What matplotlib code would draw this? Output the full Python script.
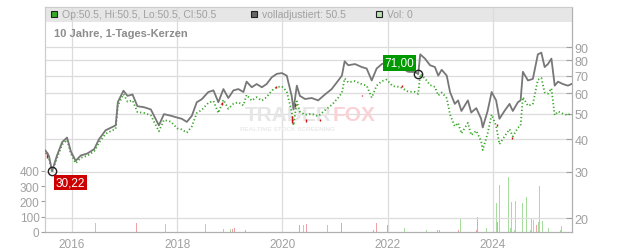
import matplotlib
matplotlib.use("Agg")
import matplotlib.pyplot as plt
import matplotlib.dates as mdates
from matplotlib.patches import Rectangle
from matplotlib.ticker import FixedLocator, NullLocator, FuncFormatter
import pandas as pd

plt.rcParams['font.family'] = ['Liberation Sans', 'DejaVu Sans']

# price (gray = adjusted, green = candles)
dates = ["2015-07-01", "2015-07-24", "2015-08-15", "2015-09-17", "2015-10-24", "2015-11-27", "2015-12-24",
         "2016-01-26", "2016-03-02", "2016-04-16", "2016-06-03", "2016-07-06", "2016-08-21", "2016-10-04",
         "2016-10-30", "2016-11-14", "2016-12-23", "2017-01-20", "2017-02-24", "2017-03-30", "2017-05-16",
         "2017-07-01", "2017-08-26", "2017-09-30", "2017-11-17", "2018-01-01", "2018-02-01", "2018-03-08",
         "2018-04-12", "2018-05-16", "2018-06-20", "2018-08-04", "2018-09-09", "2018-10-13", "2018-11-17",
         "2018-12-21", "2019-01-26", "2019-03-01", "2019-04-05", "2019-04-27", "2019-06-02", "2019-07-06",
         "2019-08-11", "2019-09-13", "2019-10-19", "2019-11-23", "2019-12-28", "2020-01-31", "2020-03-05",
         "2020-03-18", "2020-04-10", "2020-05-01", "2020-06-06", "2020-07-22", "2020-09-05", "2020-10-22",
         "2020-12-08", "2021-01-23", "2021-02-17", "2021-03-08", "2021-04-02", "2021-05-19", "2021-07-05",
         "2021-08-08", "2021-09-12", "2021-10-16", "2021-11-21", "2021-12-25", "2022-02-05", "2022-03-28",
         "2022-05-23", "2022-07-09", "2022-08-01", "2022-08-15", "2022-09-17", "2022-10-22", "2022-11-25",
         "2022-12-18", "2023-01-11", "2023-02-15", "2023-03-10", "2023-04-12", "2023-05-05", "2023-05-28",
         "2023-07-12", "2023-08-04", "2023-09-08", "2023-10-12", "2023-10-23", "2023-11-26", "2023-12-24",
         "2024-01-24", "2024-02-16", "2024-03-22", "2024-04-26", "2024-05-19", "2024-06-23", "2024-07-12",
         "2024-07-28", "2024-09-01", "2024-10-05", "2024-11-09", "2024-12-03", "2024-12-26", "2025-01-18",
         "2025-02-11", "2025-03-06", "2025-03-29", "2025-05-02", "2025-06-06", "2025-06-29"]
adjusted = [36.2, 34.6, 30.22, 34.5, 39.0, 40.6, 35.9,
            33.1, 34.7, 35.3, 36.7, 40.0, 43.3, 44.5,
            45.2, 55.5, 61.3, 58.6, 59.3, 53.5, 53.0,
            52.0, 45.2, 49.9, 49.2, 48.4, 47.9, 46.6,
            49.2, 55.4, 56.9, 60.6, 61.5, 55.4, 62.2,
            57.5, 61.5, 62.2, 60.6, 66.4, 63.2, 65.0,
            63.2, 65.0, 69.0, 71.1, 71.6, 70.0, 58.6,
            52.0, 64.1, 58.6, 57.0, 57.5, 56.3, 59.3,
            62.2, 67.1, 70.0, 79.4, 76.7, 77.5, 75.5,
            74.5, 67.1, 74.5, 77.5, 78.6, 76.0, 75.5,
            72.4, 72.3, 71.0, 84.4, 81.3, 76.7, 75.5,
            70.0, 73.7, 70.0, 60.6, 54.6, 56.3, 51.3,
            56.3, 50.6, 52.6, 47.9, 44.4, 51.3, 60.6,
            56.3, 47.9, 51.3, 54.6, 51.3, 55.4, 56.3,
            72.4, 67.1, 68.0, 84.4, 85.7, 75.5, 77.5,
            81.3, 64.1, 66.4, 65.0, 64.1, 65.0]
candles = [35.5, 33.9, 29.9, 33.8, 38.2, 39.8, 35.2,
           32.4, 34.0, 34.6, 36.0, 38.8, 42.0, 43.2,
           43.8, 53.8, 59.5, 55.7, 56.3, 50.8, 50.4,
           49.4, 42.9, 47.4, 46.7, 44.0, 43.6, 42.4,
           44.8, 50.4, 51.8, 55.1, 56.0, 50.4, 56.6,
           52.3, 54.7, 55.4, 53.9, 59.1, 56.2, 57.9,
           56.2, 57.9, 61.4, 63.3, 63.7, 60.9, 51.0,
           45.2, 55.8, 51.0, 49.6, 50.0, 49.0, 51.6,
           54.1, 57.7, 60.2, 68.3, 66.0, 66.7, 64.9,
           64.1, 57.7, 64.1, 66.7, 67.6, 63.8, 63.4,
           60.8, 60.7, 59.6, 70.9, 68.3, 64.4, 63.4,
           58.8, 60.4, 57.4, 49.7, 44.8, 46.2, 42.1,
           46.2, 41.5, 43.1, 39.3, 36.4, 42.1, 49.7,
           45.0, 38.3, 41.0, 43.7, 41.0, 44.3, 45.0,
           57.9, 53.7, 54.4, 67.5, 68.6, 60.4, 59.7,
           62.6, 49.4, 51.1, 50.1, 49.4, 50.5]

# red candles (date, low, high)
red_dates = ["2015-07-12", "2018-11-10", "2019-11-15", "2020-03-10", "2020-03-25", "2020-06-15",
             "2020-09-20", "2021-07-10", "2022-04-10", "2024-01-30", "2024-05-10"]
red_low = [33.8, 54.0, 62.8, 46.0, 53.0, 46.5, 46.8, 58.3, 63.3, 44.8, 40.2]
red_high = [35.8, 55.5, 63.8, 49.0, 55.0, 48.0, 47.8, 59.2, 64.2, 45.8, 40.9]

# volume bars
vol_dates = ["2016-06-14", "2017-03-25", "2017-10-12", "2018-07-13", "2018-11-17", "2019-01-08", "2019-01-22",
             "2019-01-31", "2019-04-19", "2020-04-27", "2020-05-27", "2020-06-13", "2020-11-07", "2021-02-13",
             "2021-09-23", "2021-10-15", "2022-01-01", "2022-04-28", "2022-09-27", "2022-12-14", "2022-12-24",
             "2023-05-05", "2023-05-25", "2023-09-08", "2023-09-16", "2023-09-20", "2023-11-16", "2024-01-27",
             "2024-02-03", "2024-02-15", "2024-04-20", "2024-05-04", "2024-05-11", "2024-06-01", "2024-06-09",
             "2024-07-23", "2024-07-27", "2024-08-24", "2024-09-16", "2024-09-26", "2024-10-10", "2024-10-31",
             "2024-11-14", "2024-11-21", "2024-12-12", "2025-01-23", "2025-04-16", "2025-04-23"]
vol_values = [59, 59, 52, 52, 22, 22, 20,
              26, 15, 48, 48, 52, 48, 59,
              15, 59, 48, 28, 15, 15, 15,
              15, 92, 15, 100, 66, 28, 187,
              66, 307, 357, 28, 196, 15, 200,
              124, 190, 226, 15, 92, 81, 48,
              66, 298, 74, 28, 15, 39]
vol_dir = ["g", "r", "g", "g", "g", "g", "r",
           "r", "r", "r", "g", "r", "g", "r",
           "r", "r", "n", "g", "g", "r", "r",
           "r", "g", "r", "r", "r", "g", "g",
           "r", "g", "g", "g", "g", "g", "g",
           "g", "g", "g", "g", "g", "g", "r",
           "g", "g", "g", "g", "g", "g"]

price_ticks = [20, 30, 40, 50, 60, 70, 80, 90]
vol_ticks = [0, 100, 200, 300, 400]
year_ticks = ["2016", "2018", "2020", "2022", "2024"]

dates = pd.to_datetime(dates)
red_dates = pd.to_datetime(red_dates)
vol_dates = pd.to_datetime(vol_dates)

fig = plt.figure(figsize=(6.32, 2.53), dpi=100)
ax = fig.add_axes([45/632, 20/253, 527/632, 225/253])
ax2 = ax.twinx()

txt = '#a0a0a0'
grid = '#dcdcdc'

# volume
vcol = {"g": '#a6dc9c', "r": '#f2a0a8', "n": '#b0b0b0'}
ax.bar(vol_dates, vol_values, width=7, color=[vcol[d] for d in vol_dir], zorder=2)
ax.set_ylim(0, 1470)
ax.yaxis.set_major_locator(FixedLocator(vol_ticks))
ax.tick_params(axis='y', colors=txt, labelsize=8.5, length=3, width=0.8, pad=1)
ax.tick_params(axis='x', colors=txt, labelsize=8.5, length=0, pad=4)
ax.xaxis.set_major_locator(FixedLocator([mdates.date2num(pd.Timestamp(y + "-01-01")) for y in year_ticks]))
ax.xaxis.set_major_formatter(mdates.DateFormatter('%Y'))
ax.set_xlim(pd.Timestamp("2015-06-27"), pd.Timestamp("2025-07-04"))

# price
ax2.set_yscale('log')
ax2.set_ylim(17.7, 128)
ax2.yaxis.set_major_locator(FixedLocator(price_ticks))
ax2.yaxis.set_minor_locator(NullLocator())
ax2.yaxis.set_major_formatter(FuncFormatter(lambda v, p: "%d" % v))
ax2.tick_params(axis='y', colors=txt, labelsize=9, length=4, width=0.8, direction='in', pad=2)
for l in ax2.get_yticklabels():
    l.set_color(txt)

# header band and grid
ax2.add_patch(Rectangle((0, 1 - 15/225), 1, 15/225, transform=ax2.transAxes,
                        facecolor='#e6e6e6', edgecolor='none', zorder=0.5))
for v in price_ticks:
    ax2.axhline(v, color=grid, lw=0.9, zorder=1)
for y in year_ticks:
    ax2.axvline(pd.Timestamp(y + "-01-01"), color=grid, lw=0.9, zorder=1)

# watermark
ax2.text(0.543, 0.522, "TRADER", transform=ax2.transAxes, ha='right', va='center',
         fontsize=15, fontweight='bold', color='#e6e6e6', zorder=1.5)
ax2.text(0.545, 0.522, "FOX", transform=ax2.transAxes, ha='left', va='center',
         fontsize=15, fontweight='bold', color='#f9d2d6', zorder=1.5)
ax2.text(0.370, 0.46, "REALTIME STOCK SCREENING", transform=ax2.transAxes, ha='left', va='center',
         fontsize=4.6, fontweight='bold', color='#eaeaea', zorder=1.5)

ax2.plot(dates, candles, color='#3aa62a', lw=1.3, linestyle=(0, (0.7, 1.3)), zorder=3)
ax2.vlines(red_dates, red_low, red_high, color='#cc1111', lw=1.0, zorder=3.5)
ax2.plot(dates, adjusted, color='#777777', lw=1.3, zorder=4)

# min / max labels
lo_d, lo_v = pd.Timestamp("2015-08-15"), 30.22
hi_d, hi_v = pd.Timestamp("2022-08-01"), 71.0
for d, v in [(lo_d, lo_v), (hi_d, hi_v)]:
    ax2.plot([d], [v], marker='o', ms=6, mfc='none', mec='#222222', mew=1, zorder=6)
ax2.annotate("30,22", (lo_d, lo_v), xytext=(13.3, -8), textcoords='offset points',
             ha='center', va='center', color='white', fontsize=8.5, zorder=7,
             bbox=dict(boxstyle='square,pad=0.15', fc='#cc0000', ec='none'))
ax2.annotate("71,00", (hi_d, hi_v), xytext=(-13.7, 8), textcoords='offset points',
             ha='center', va='center', color='white', fontsize=8.5, zorder=7,
             bbox=dict(boxstyle='square,pad=0.15', fc='#009900', ec='none'))

# legend header
items = [(0.0108, '#33aa22', "Op:50.5, Hi:50.5, Lo:50.5, Cl:50.5"),
         (0.390, '#666666', "volladjustiert: 50.5"),
         (0.628, '#b8e0b0', "Vol: 0")]
for x0, c, s in items:
    ax2.add_patch(Rectangle((x0, 0.954), 6/527, 6/225, transform=ax2.transAxes,
                            facecolor=c, edgecolor='#222222', lw=0.8, zorder=5))
    ax2.text(x0 + 11/527, 0.9667, s, transform=ax2.transAxes, ha='left', va='center',
             fontsize=7.5, color=txt, zorder=5)
ax2.text(0.017, 0.884, "10 Jahre, 1-Tages-Kerzen", transform=ax2.transAxes, ha='left', va='center',
         fontsize=8, fontweight='bold', color='#8c8c8c', zorder=5)

for a in (ax, ax2):
    a.spines['top'].set_color('#cccccc')
    a.spines['left'].set_color('#cccccc')
    a.spines['right'].set_color('#b0b0b0')
    a.spines['bottom'].set_color('#b0b0b0')

fig.savefig("out.png", dpi=100)
